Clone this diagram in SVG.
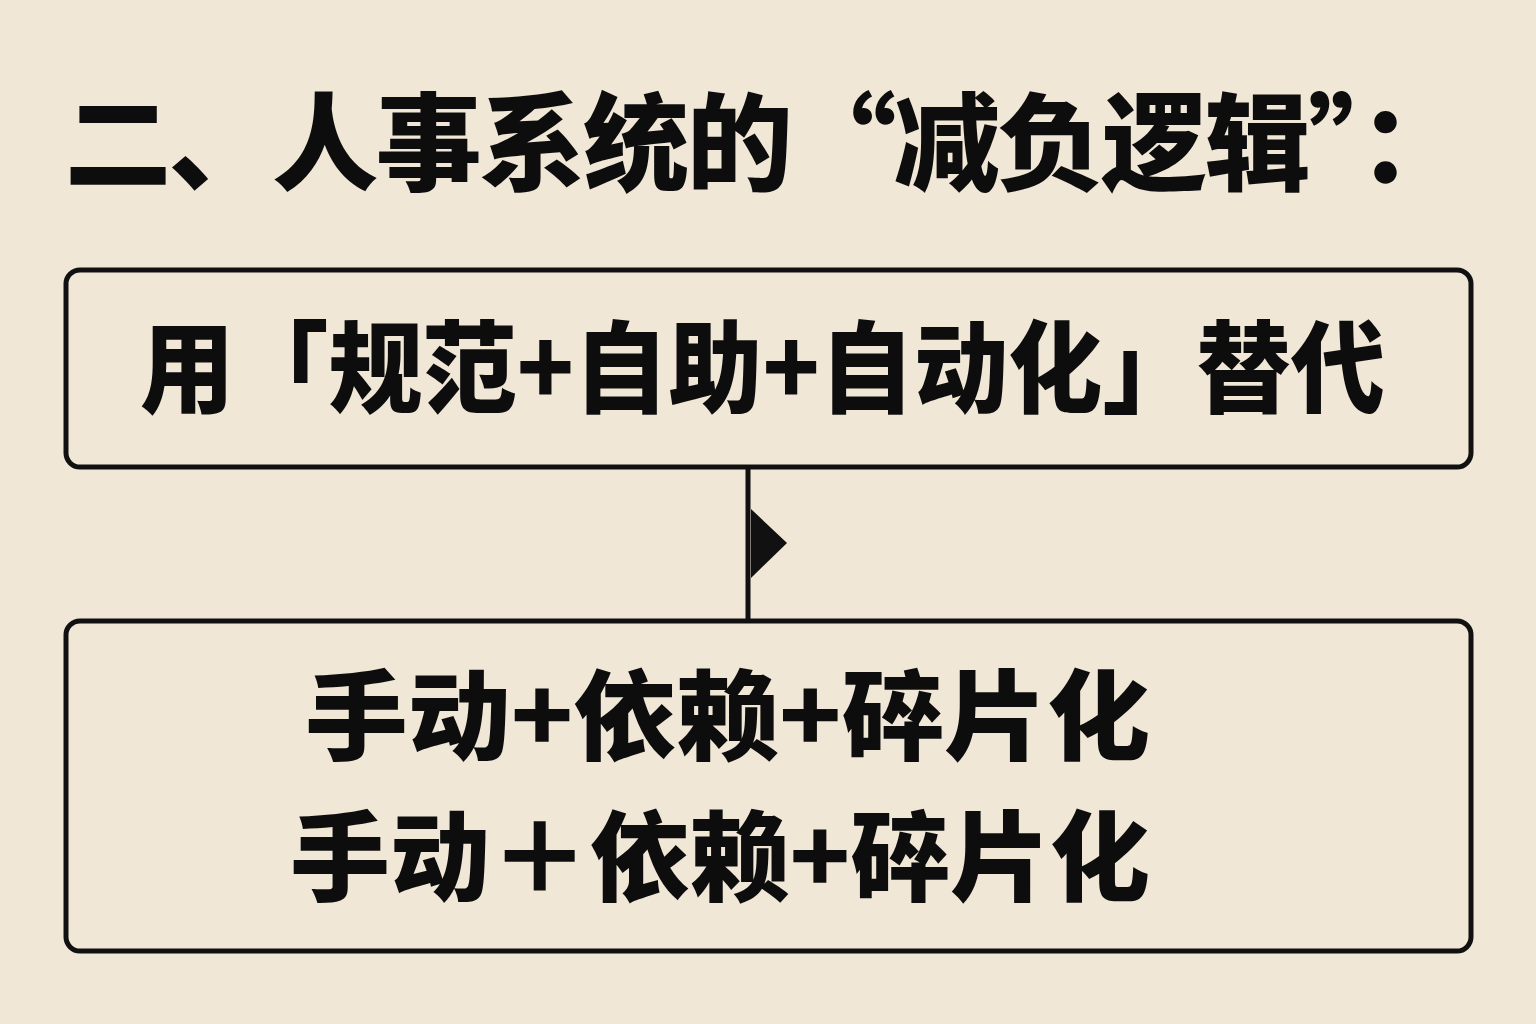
<svg xmlns="http://www.w3.org/2000/svg" width="1536" height="1024" viewBox="0 0 1536 1024">
<style>
.bg{fill:#F0E7D7}
.box{fill:none;stroke:#111;stroke-width:5}
.t{font-family:"Noto Sans CJK SC","Noto Sans",sans-serif;font-weight:900;fill:#0d0d0d}
.conn{stroke:#111;stroke-width:5;fill:none}
</style>
<rect class="bg" x="0" y="0" width="1536" height="1024"/>
<g id="title">
<text class="t" x="65" y="182" font-size="106" textLength="1400" lengthAdjust="spacing">二、人事系统的“减负逻辑”：</text>
</g>
<g id="node-top">
<rect class="box" x="66" y="270" width="1405" height="197" rx="14"/>
<text class="t" x="140" y="405" font-size="100" textLength="1245" lengthAdjust="spacingAndGlyphs">用「规范+自助+自动化」替代</text>
</g>
<g id="connectors">
<line class="conn" x1="748" y1="467" x2="748" y2="621"/>
<polygon points="751,509 787,543 751,578" fill="#111"/>
</g>
<g id="node-bottom">
<rect class="box" x="66" y="621" width="1405" height="330" rx="14"/>
<text class="t" x="305" y="752" font-size="98" textLength="845" lengthAdjust="spacingAndGlyphs">手动+依赖+碎片化</text>
<text class="t" x="290" y="893" font-size="98" textLength="860" lengthAdjust="spacingAndGlyphs">手动＋依赖+碎片化</text>
</g>
</svg>
